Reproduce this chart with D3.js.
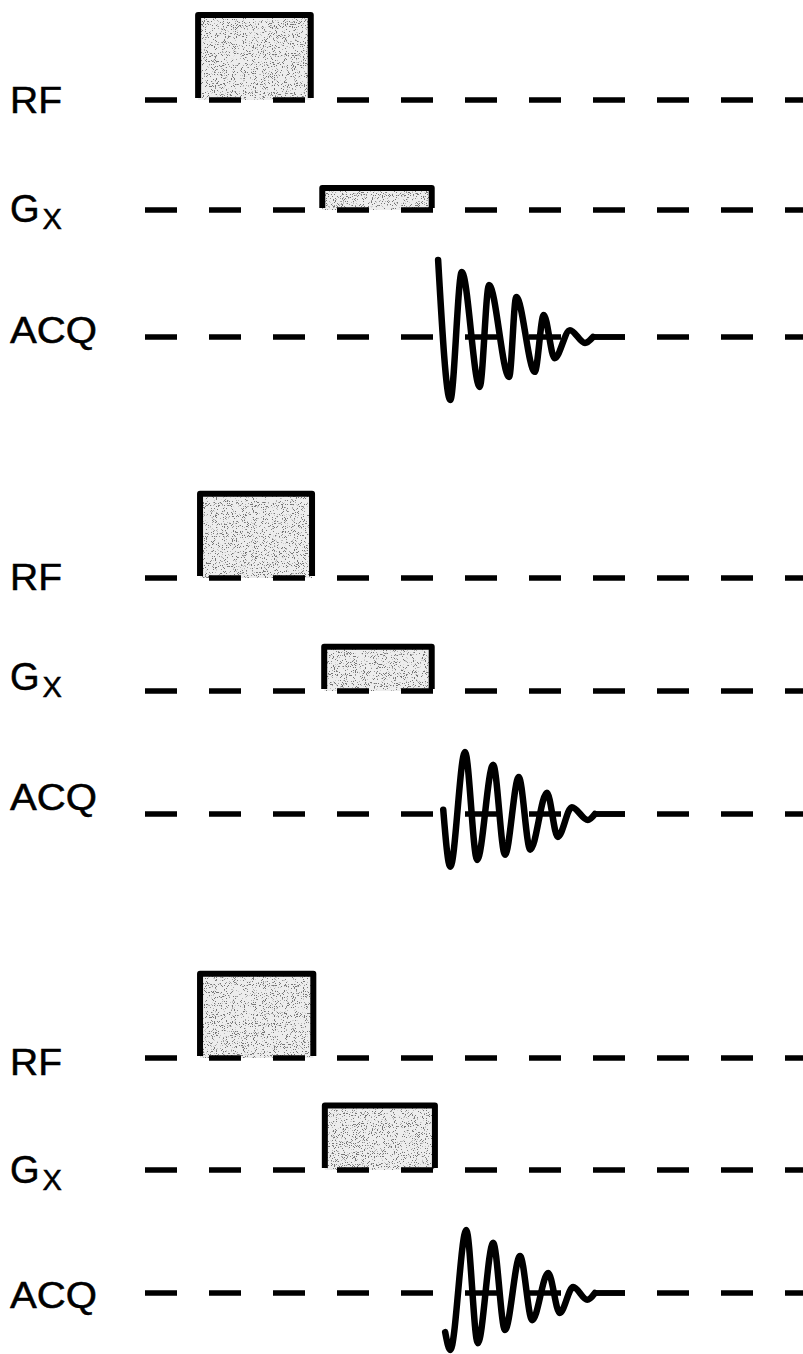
<!DOCTYPE html>
<html>
<head>
<meta charset="utf-8">
<script src="https://cdn.jsdelivr.net/npm/d3@7"></script>
<style>
  html, body { margin: 0; padding: 0; background: #fff; }
  svg { display: block; }
</style>
</head>
<body>
<svg id="chart" width="803" height="1354"></svg>
<script>
// ---------------- DATA ----------------
const channels = ["RF", "Gx", "ACQ"];
const panels = ["A", "B", "C"];
// time axis in dash periods
const timeExtent = [0, 10.3];
// RF pulse per panel: start, end (time units), amplitude
const rfStart = [0.83, 0.86, 0.86];
const rfEnd   = [2.59, 2.61, 2.63];
const rfAmp   = [1.0, 0.99, 0.99];
// Gx lobe per panel
const gxStart = [2.77, 2.80, 2.81];
const gxEnd   = [4.48, 4.48, 4.53];
const gxAmp   = [0.26, 0.52, 0.76];
// FID vertices (time, amplitude) per panel
const fidA = [[4.58,0.906],[4.77,-0.741],[4.95,0.765],[5.23,-0.588],[5.375,0.612],[5.69,-0.47],[5.80,0.47],[6.09,-0.41],[6.23,0.26],[6.40,-0.25],[6.64,0.08],[6.875,-0.07],[7.0,0]];
const fidB = [[4.66,0.05],[4.77,-0.62],[5.0,0.73],[5.19,-0.54],[5.44,0.58],[5.625,-0.48],[5.84,0.435],[6.02,-0.42],[6.28,0.25],[6.45,-0.27],[6.67,0.08],[6.92,-0.07],[7.03,0]];
const fidC = [[4.69,-0.46],[4.77,-0.67],[5.02,0.74],[5.2,-0.59],[5.44,0.59],[5.625,-0.435],[5.86,0.435],[6.05,-0.32],[6.30,0.235],[6.48,-0.235],[6.69,0.07],[6.91,-0.08],[7.03,0]];
const fids = [fidA, fidB, fidC];

// ---------------- LAYOUT ----------------
const W = 803, H = 1354;
const baselines = [[100, 210, 337], [578, 691, 814], [1058, 1170, 1293]];
const labelShift = [[13, 12, 6], [12, -1, -4], [17, 13, 15]];
const ampPx = 85;
const lw = 5.5;

const svg = d3.select("#chart");
const x = d3.scaleLinear().domain([0, 10]).range([145, 785]);

const defs = svg.append("defs");
const f = defs.append("filter").attr("id", "speck")
  .attr("x", 0).attr("y", 0).attr("width", "100%").attr("height", "100%");
f.append("feTurbulence").attr("type", "fractalNoise").attr("baseFrequency", 1.1)
  .attr("numOctaves", 2).attr("seed", 5).attr("result", "n");
f.append("feColorMatrix").attr("in", "n").attr("type", "matrix")
  .attr("values", "0 0 0 0 0  0 0 0 0 0  0 0 0 0 0  -14 0 0 0 5.6").attr("result", "d");
f.append("feComposite").attr("in", "d").attr("in2", "SourceAlpha").attr("operator", "in");

const font = "Liberation Sans, Arial, Helvetica, sans-serif";

panels.forEach((p, pi) => {
  const g = svg.append("g").attr("class", "panel-" + p);
  channels.forEach((ch, ci) => {
    const base = baselines[pi][ci];
    const y = d3.scaleLinear().domain([0, 1]).range([base, base - ampPx]);

    // label
    const ly = base + labelShift[pi][ci];
    if (ch === "Gx") {
      const t = g.append("text").attr("x", 10).attr("y", ly)
        .attr("font-family", font).attr("font-size", 38).attr("fill", "#000")
        .attr("stroke", "#000").attr("stroke-width", 0.5);
      t.append("tspan").text("G");
      t.append("tspan").attr("dy", 7).attr("dx", 3).attr("font-size", 29).text("X");
    } else {
      g.append("text").attr("x", 10).attr("y", ly)
        .attr("font-family", font).attr("font-size", 37).attr("fill", "#000")
        .attr("stroke", "#000").attr("stroke-width", 0.5)
        .attr("textLength", ch === "RF" ? 52 : 87).attr("lengthAdjust", "spacingAndGlyphs")
        .text(ch);
    }

    // pulse boxes (drawn under the dashed baseline)
    if (ch === "RF" || ch === "Gx") {
      const s = ch === "RF" ? rfStart[pi] : gxStart[pi];
      const e = ch === "RF" ? rfEnd[pi] : gxEnd[pi];
      const a = ch === "RF" ? rfAmp[pi] : gxAmp[pi];
      g.append("rect").attr("x", x(s)).attr("y", y(a))
        .attr("width", x(e) - x(s)).attr("height", base - y(a))
        .attr("fill", "#ededed");
      g.append("rect").attr("x", x(s)).attr("y", y(a))
        .attr("width", x(e) - x(s)).attr("height", base - y(a))
        .attr("fill", "#000").attr("opacity", 0.5).attr("filter", "url(#speck)");
      const path = d3.path();
      path.moveTo(x(s), base - 2);
      path.lineTo(x(s), y(a));
      path.lineTo(x(e), y(a));
      path.lineTo(x(e), base - 2);
      g.append("path").attr("d", path.toString()).attr("fill", "none")
        .attr("stroke", "#000").attr("stroke-width", 6).attr("stroke-linejoin", "round");
    }

    // dashed baseline
    g.append("line").attr("x1", x(timeExtent[0])).attr("x2", x(timeExtent[1]))
      .attr("y1", base).attr("y2", base)
      .attr("stroke", "#000").attr("stroke-width", lw)
      .attr("stroke-dasharray", "32,32");

    // FID
    if (ch === "ACQ") {
      const line = d3.line().x(d => x(d[0])).y(d => y(d[1])).curve(d3.curveMonotoneX);
      g.append("path").attr("d", line(fids[pi])).attr("fill", "none")
        .attr("stroke", "#000").attr("stroke-width", 6.5)
        .attr("stroke-linecap", "round").attr("stroke-linejoin", "round");
      // solid segment joining FID tail to the next dash
      const tail = fids[pi][fids[pi].length - 1][0];
      g.append("line").attr("x1", x(tail)).attr("x2", x(7.5))
        .attr("y1", base).attr("y2", base)
        .attr("stroke", "#000").attr("stroke-width", lw);
    }
  });
});
</script>
</body>
</html>
